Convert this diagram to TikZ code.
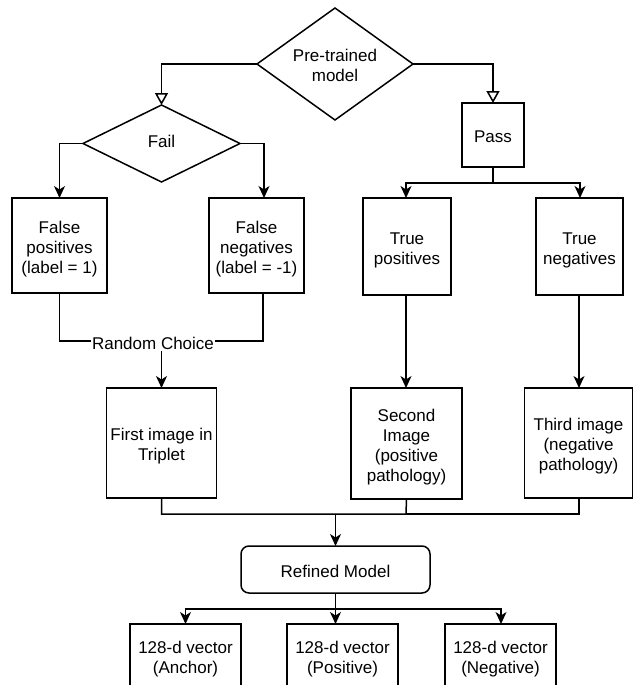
\documentclass[tikz,border=0pt]{standalone}
\usepackage{fontspec}
\setmainfont{Liberation Sans}
\usetikzlibrary{shapes.geometric,arrows.meta}
\begin{document}
\begin{tikzpicture}[x=1pt,y=-1pt,
  every node/.style={font=\fontsize{17}{20}\selectfont, align=center, inner sep=0pt, outer sep=0pt,
    text height=17.8pt, text depth=2.2pt},
  % text height for a label of several lines (20pt per extra line)
  lines/.style={text height=#1},
  line/.style={line width=1.5pt, line join=miter},
  arr/.style={line, -{Stealth[length=12pt,width=11pt,inset=3.5pt]}},
  openarr/.style={line, -{Triangle[open,length=12pt,width=13pt,fill=white]}},
  box/.style={draw, line width=1.5pt, minimum width=#1},
  decision/.style={draw, line width=1.5pt, diamond}
]
\useasboundingbox (0,0) rectangle (633,685);
\clip (0,0) rectangle (633,685);

% decisions
\node[decision, aspect=1.4, minimum width=156pt, minimum height=112pt, lines=37pt] (pre) at (335,64) {Pre-trained\\model};
\node[decision, aspect=2, minimum width=157pt, minimum height=77pt,
      text height=12.2pt, text depth=3.8pt] (fail) at (161.5,143.5) {Fail};

% pass branch
\node[box=62pt, minimum height=64pt] (pass) at (493,135) {Pass};
\node[box=88pt, minimum height=97pt, lines=37.8pt] (tp) at (407,246.5) {True\\positives};
\node[box=87pt, minimum height=97pt, lines=37.8pt] (tn) at (579.5,246.5) {True\\negatives};

% fail branch
\node[box=95pt, minimum height=95pt, lines=57.8pt] (fp) at (59.5,245.5) {False\\positives\\(label = 1)};
\node[box=95pt, minimum height=95pt, lines=57.8pt] (fn) at (256.5,245.5) {False\\negatives\\(label = -1)};

% triplet images
\node[box=110pt, minimum height=110pt, lines=37.8pt] (first) at (161.5,443) {First image in\\Triplet};
\node[box=111pt, minimum height=111pt, lines=77.8pt] (second) at (406.5,443.5) {Second\\Image\\(positive\\pathology)};
\node[box=108pt, minimum height=110pt, lines=57.8pt] (third) at (578.5,443) {Third image\\(negative\\pathology)};

% refined model and outputs
\node[box=189pt, minimum height=47pt, rounded corners=8pt] (refined) at (335.5,569.5) {Refined Model};
\node[box=111pt, minimum height=64pt, lines=37.8pt] (v1) at (185.5,656) {128-d vector\\(Anchor)};
\node[box=111pt, minimum height=64pt, lines=37.8pt] (v2) at (342.5,656) {128-d vector\\(Positive)};
\node[box=111pt, minimum height=64pt, lines=37.8pt] (v3) at (500.5,656) {128-d vector\\(Negative)};

% connectors from the pre-trained model
\draw[openarr] (pre.west) -| (fail.north);
\draw[openarr] (pre.east) -| (pass.north);

% fail split
\draw[arr] (fail.west) -| (fp.north);
\draw[arr] (fail.east) -| (264,198);

% random choice between false positives and false negatives
\coordinate (rc) at (161.5,341);
\draw[line] (fp.south) |- (rc) -| (263,293);
\node[fill=white, inner xsep=1pt, inner ysep=0pt, text height=18pt, text depth=2pt] (rclabel) at (153,341) {Random Choice};
\draw[arr] (161.5,351) -- (first.north);

% pass split
\coordinate (ps) at (493,183);
\draw[line] (pass.south) -- (ps);
\draw[arr] (ps) -| (406,198);
\draw[arr] (ps) -| (580,198);

\draw[arr] (406,295) -- (406,388);
\draw[arr] (579,295) -- (579,388);

% merge into refined model
\coordinate (mg) at (335.5,514);
\draw[line] (first.south) |- (406,514) -- (second.south);
\draw[line] (406,514) -| (579,498);
\draw[arr] (mg) -- (refined.north);

% outputs
\coordinate (os) at (335.5,609);
\draw[line] (refined.south) -- (os);
\draw[arr] (os) -| (185.5,624);
\draw[arr] (os) -- (335.5,624);
\draw[arr] (os) -| (501,624);
\end{tikzpicture}
\end{document}
